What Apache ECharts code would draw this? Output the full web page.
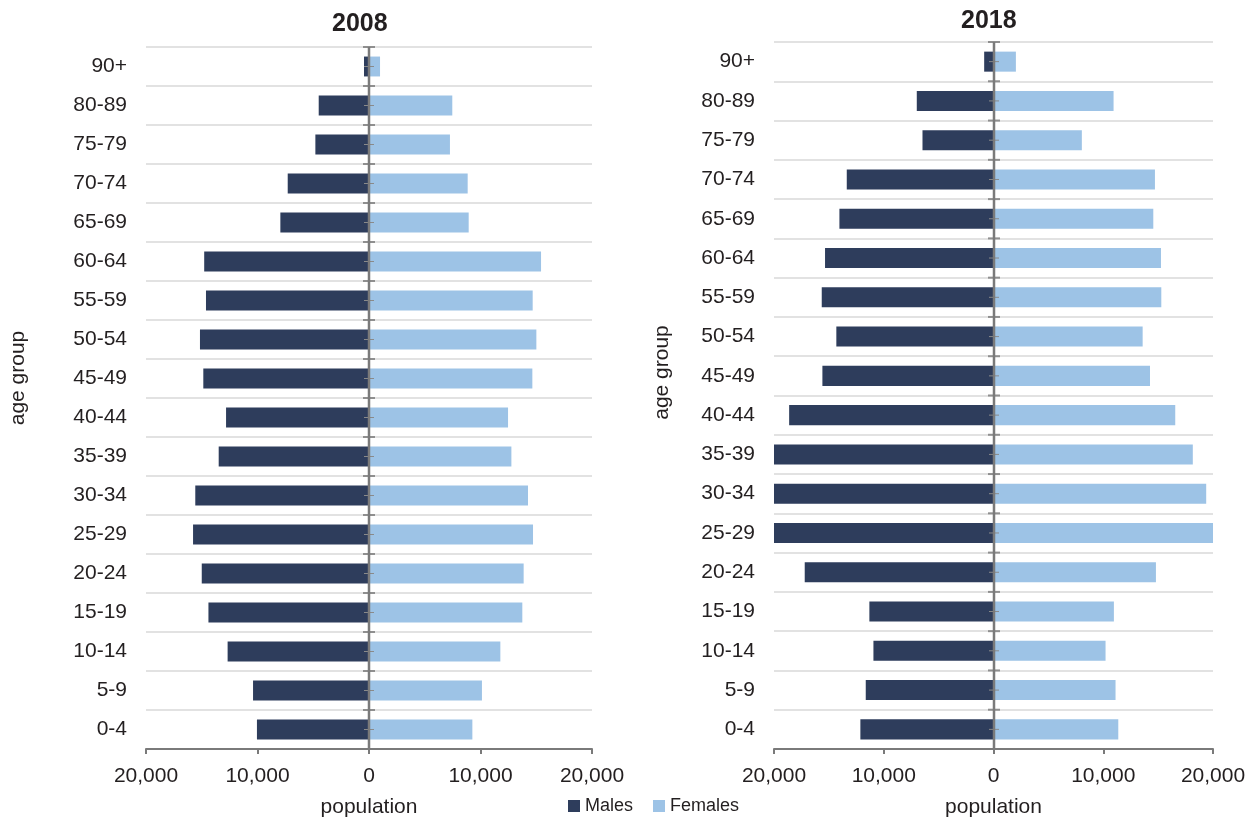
<!DOCTYPE html>
<html>
<head>
<meta charset="utf-8">
<script src="https://cdn.jsdelivr.net/npm/echarts@6/dist/echarts.min.js"></script>
<style>
  html, body { margin: 0; padding: 0; background: #ffffff; }
  #chart { width: 1255px; height: 818px; }
</style>
</head>
<body>
<div id="chart"></div>
<script>
// Age groups, listed from the bottom of the pyramid to the top
const ageGroups = ['0-4', '5-9', '10-14', '15-19', '20-24', '25-29', '30-34', '35-39', '40-44',
  '45-49', '50-54', '55-59', '60-64', '65-69', '70-74', '75-79', '80-89', '90+'];

const years = ['2008', '2018'];
const seriesNames = ['Males', 'Females'];

// Population by age group (persons)
const males2008 = [10050, 10400, 12680, 14400, 15000, 15780, 15580, 13480, 12820,
  14860, 15160, 14620, 14780, 7950, 7290, 4810, 4510, 450];
const females2008 = [9270, 10130, 11780, 13750, 13870, 14710, 14260, 12770, 12470,
  14650, 15010, 14680, 15430, 8940, 8850, 7260, 7470, 990];

const males2018 = [12130, 11640, 10940, 11310, 17200, 20600, 20400, 20300, 18620,
  15590, 14320, 15650, 15350, 14040, 13370, 6470, 6990, 850];
const females2018 = [11370, 11120, 10210, 10970, 14800, 20150, 19380, 18160, 16560,
  14260, 13590, 15290, 15260, 14560, 14710, 8050, 10940, 2040];

// Population axis: symmetric about zero
const axisLimit = 20000;
const axisStep = 10000;

const FONT = 'Liberation Sans, Arial, Helvetica, sans-serif';
const TEXT = '#231f20';
const MALE_COLOR = '#2e3d5c';
const FEMALE_COLOR = '#9dc3e6';
const AXIS_GREY = '#7a7a7a';

const fmt = v => Math.abs(v).toLocaleString('en-US');

// Centre axis of each pyramid: vertical line plus ticks at band edges and band centres
function centreAxis(params, api) {
  const idx = api.value(1);
  const c = api.coord([0, idx]);
  const band = api.size([0, 1])[1];
  const x = Math.round(c[0]), y = c[1];
  const top = y - band / 2;
  const children = [
    { type: 'line', shape: { x1: x - 5, y1: y, x2: x + 5, y2: y },
      style: { stroke: '#8a8a8a', lineWidth: 1 } },
    { type: 'line', shape: { x1: x - 6, y1: top, x2: x + 6, y2: top },
      style: { stroke: '#8f8f8f', lineWidth: 2 } }
  ];
  if (idx === 0) {
    const cs = params.coordSys;
    children.push({ type: 'line', z2: 10,
      shape: { x1: x, y1: cs.y, x2: x, y2: cs.y + cs.height },
      style: { stroke: AXIS_GREY, lineWidth: 2.5 } });
  }
  return { type: 'group', children };
}

function panel(i, males, females, nameGap, namePad) {
  const xAxis = {
    type: 'value', gridIndex: i,
    min: -axisLimit, max: axisLimit, interval: axisStep,
    name: 'population', nameLocation: 'middle', nameGap: 48,
    nameTextStyle: { fontFamily: FONT, fontSize: 21, color: TEXT },
    axisLine: { show: true, onZero: false, lineStyle: { color: AXIS_GREY, width: 2 } },
    axisTick: { show: true, length: 5, lineStyle: { color: AXIS_GREY, width: 2 } },
    axisLabel: { formatter: fmt, fontFamily: FONT, fontSize: 21, color: TEXT, margin: 17 },
    splitLine: { show: false }
  };
  const yAxis = {
    type: 'category', gridIndex: i, data: ageGroups,
    name: 'age group', nameLocation: 'middle', nameRotate: 90, nameGap: nameGap,
    nameTextStyle: { fontFamily: FONT, fontSize: 21, color: TEXT, padding: [0, 0, 0, namePad] },
    axisLine: { show: false, onZero: false },
    axisTick: { show: false },
    axisLabel: { fontFamily: FONT, fontSize: 21, color: TEXT, margin: 19, interval: 0 },
    splitLine: { show: true, interval: 0, lineStyle: { color: '#d9d9d9', width: 1.5 } }
  };
  const series = [
    { name: seriesNames[0], type: 'bar', xAxisIndex: i, yAxisIndex: i,
      data: males.map(v => -v), barWidth: '51%', barGap: '-100%',
      itemStyle: { color: MALE_COLOR }, silent: true, clip: true, z: 2 },
    { name: seriesNames[1], type: 'bar', xAxisIndex: i, yAxisIndex: i,
      data: females, barWidth: '51%', barGap: '-100%',
      itemStyle: { color: FEMALE_COLOR }, silent: true, clip: true, z: 2 },
    { type: 'custom', xAxisIndex: i, yAxisIndex: i, silent: true, z: 5, clip: false,
      data: ageGroups.map(g => [0, g]), encode: { x: 0, y: 1 },
      renderItem: centreAxis }
  ];
  return { xAxis, yAxis, series };
}

const p1 = panel(0, males2008, females2008, 117, 40);
const p2 = panel(1, males2018, females2018, 101, 46);

const option = {
  animation: false,
  backgroundColor: '#ffffff',
  textStyle: { fontFamily: FONT },
  title: [
    { text: years[0], left: 332, top: 12, padding: 0,
      textStyle: { fontFamily: FONT, fontSize: 25, fontWeight: 'bold', color: TEXT } },
    { text: years[1], left: 961, top: 9, padding: 0,
      textStyle: { fontFamily: FONT, fontSize: 25, fontWeight: 'bold', color: TEXT } }
  ],
  legend: {
    data: seriesNames, left: 568, top: 797, padding: 0,
    icon: 'rect', itemWidth: 12, itemHeight: 12, itemGap: 20,
    textStyle: { fontFamily: FONT, fontSize: 18, color: TEXT }
  },
  grid: [
    { left: 146, top: 47, width: 446, height: 702, outerBoundsMode: 'none', containLabel: false },
    { left: 774, top: 42, width: 439, height: 707, outerBoundsMode: 'none', containLabel: false }
  ],
  xAxis: [p1.xAxis, p2.xAxis],
  yAxis: [p1.yAxis, p2.yAxis],
  series: [...p1.series, ...p2.series]
};

const chart = echarts.init(document.getElementById('chart'), null, { renderer: 'canvas' });
chart.setOption(option);
</script>
</body>
</html>
